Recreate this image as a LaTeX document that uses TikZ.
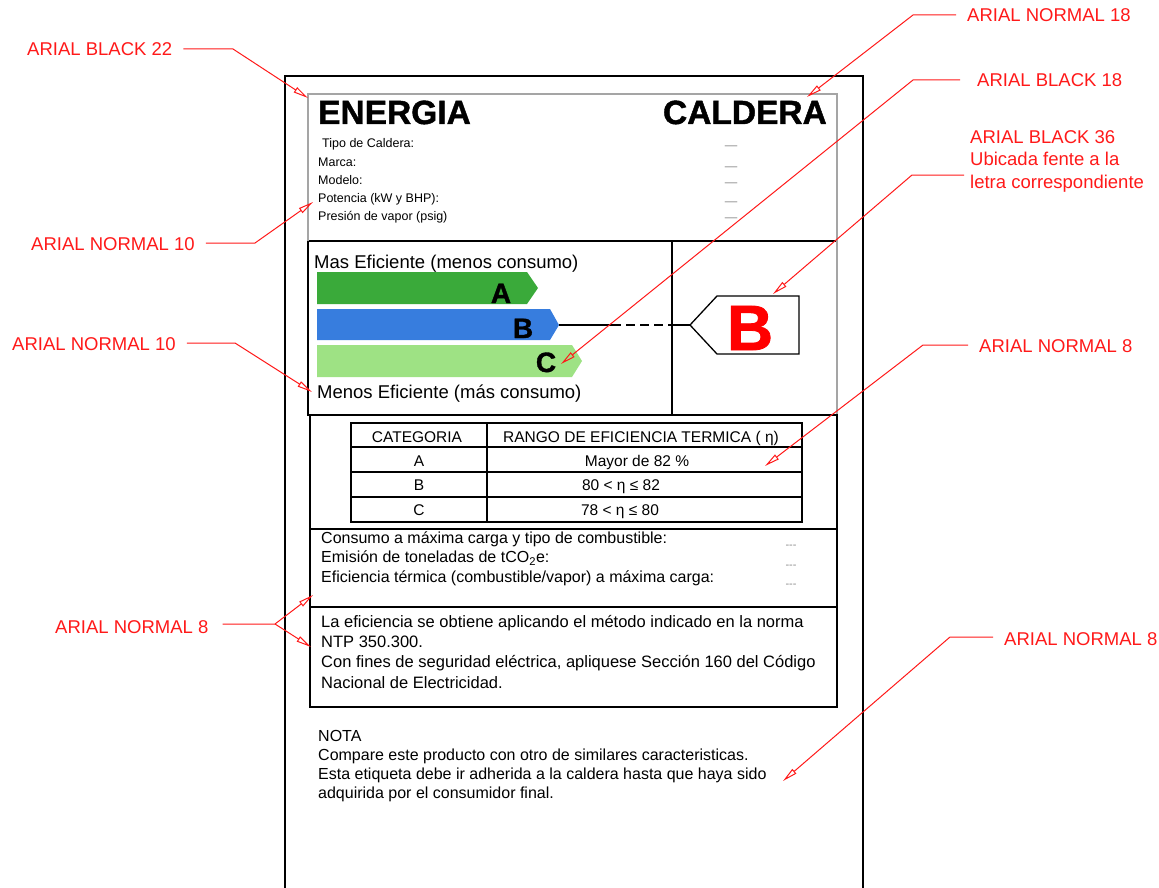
\documentclass[tikz,border=0pt]{standalone}
\usepackage{fontspec}
\setmainfont{Liberation Sans}
\newfontfamily\heavyfont{Liberation Sans}[BoldFeatures={FakeBold=1.3}]
\usetikzlibrary{arrows.meta}
\definecolor{annot}{RGB}{255,25,25}
\definecolor{barAcol}{RGB}{58,170,58}
\definecolor{barBcol}{RGB}{55,125,222}
\definecolor{barCcol}{RGB}{158,226,132}
\definecolor{hdrgray}{RGB}{165,165,165}

\begin{document}
\begin{tikzpicture}[x=1pt,y=-1pt]
	\tikzset{rule/.style={line width=1.3pt,black}}
	\tikzset{hdr/.style={line width=2.6pt,hdrgray}}
	\tikzset{lbl/.style={inner sep=0pt,text=annot,align=left,font=\fontsize{18.5}{22.5}\selectfont}}
	\tikzset{lead/.style={annot,line width=1pt,shorten <=11pt,-{Triangle[open,length=15pt,width=6pt]}}}
	\tikzset{title/.style={inner sep=0pt,font=\fontsize{33.5}{36}\heavyfont\bfseries}}
	\tikzset{info/.style={inner sep=0pt,font=\fontsize{12.5}{15}\selectfont}}
	\tikzset{fillin/.style={inner sep=0pt,text=black!45,font=\fontsize{12.5}{15}\selectfont}}
	\tikzset{smallfill/.style={inner sep=0pt,text=black!45,font=\fontsize{11}{13}\selectfont}}
	\tikzset{effi/.style={inner sep=0pt,font=\fontsize{18.5}{22}\selectfont}}
	\tikzset{letter/.style={inner sep=0pt,font=\fontsize{28}{30}\heavyfont\bfseries}}
	\tikzset{cell/.style={inner sep=0pt,font=\fontsize{15.5}{18}\selectfont}}
	\tikzset{body/.style={inner sep=0pt,align=left,font=\fontsize{16}{19.5}\selectfont}}
	\useasboundingbox (0,0) rectangle (1159,888);

	\draw[rule] (285,892) -- (285,76) -- (863,76) -- (863,892);
	\draw[rule] (308,241) -- (837,241);
	\draw[rule] (308,241) -- (308,415) -- (837,415);
	\draw[rule] (672,241) -- (672,415);
	\draw[hdr] (308,241) -- (308,94) -- (837,94) -- (837,415);
	\draw[rule] (310,415) rectangle (837,707);
	\draw[rule] (310,529) -- (837,529);
	\draw[rule] (310,607) -- (837,607);

	\node[title,anchor=base west] (energia) at (318,124) {ENERGIA};
	\node[title,anchor=base east] (caldera) at (827,124) {CALDERA};
	\node[info,anchor=base west] (tipo) at (322,147) {Tipo de Caldera:};
	\node[info,anchor=base west] (marca) at (318,166) {Marca:};
	\node[info,anchor=base west] (modelo) at (318,184) {Modelo:};
	\node[info,anchor=base west] (potencia) at (318,202) {Potencia (kW y BHP):};
	\node[info,anchor=base west] (presion) at (318,220) {Presión de vapor (psig)};
	\node[fillin,anchor=base] (ftipo) at (731,149.5) {—};
	\node[fillin,anchor=base] (fmarca) at (731,170) {—};
	\node[fillin,anchor=base] (fmodelo) at (731,186.5) {—};
	\node[fillin,anchor=base] (fpotencia) at (731,205) {—};
	\node[fillin,anchor=base] (fpresion) at (731,221) {—};

	\node[effi,anchor=base west] (masef) at (314,268) {Mas Eficiente (menos consumo)};
	\node[effi,anchor=base west] (menosef) at (317,398) {Menos Eficiente (más consumo)};
	\fill[barAcol] (317,272) -- (527,272) -- (538,288) -- (527,304) -- (317,304) -- cycle;
	\fill[barBcol] (317,309) -- (550,309) -- (559,325) -- (550,340) -- (317,340) -- cycle;
	\fill[barCcol] (317,345) -- (572,345) -- (582,361) -- (572,377) -- (317,377) -- cycle;
	\node[letter,anchor=base] (letA) at (501,303) {A};
	\node[letter,anchor=base] (letB) at (523,338) {B};
	\node[letter,anchor=base] (letC) at (546,372) {C};

	\coordinate (tipB) at (559,325);
	\coordinate (dashstart) at (612,325);
	\coordinate (dashend) at (672,325);
	\coordinate (boxtip) at (690,325);
	\draw[line width=1.3pt] (tipB) -- (dashstart);
	\draw[line width=1.3pt,dash pattern=on 9pt off 5pt] (dashstart) -- (dashend);
	\draw[line width=1.3pt] (dashend) -- (boxtip);
	\draw[rule] (boxtip) -- (717,296) -- (799,296) -- (799,354) -- (717,354) -- cycle;
	\node[inner sep=0pt,text=red,font=\fontsize{64}{66}\heavyfont\bfseries,anchor=base] (bigB) at (750,350) {B};

	\draw[rule] (351,423) rectangle (802,522);
	\draw[rule] (487,423) -- (487,522);
	\draw[rule] (351,447) -- (802,447);
	\draw[rule] (351,472) -- (802,472);
	\draw[rule] (351,497) -- (802,497);
	\node[cell,anchor=base] (hcat) at (417,442) {CATEGORIA};
	\node[cell,anchor=base] (hrango) at (641,442) {RANGO DE EFICIENCIA TERMICA ( η)};
	\node[cell,anchor=base] (catA) at (419,466) {A};
	\node[cell,anchor=base] (catB) at (419,490) {B};
	\node[cell,anchor=base] (catC) at (419,515) {C};
	\node[cell,anchor=base] (rangoA) at (637,466) {Mayor de 82 \%};
	\node[cell,anchor=base] (rangoB) at (621,490) {80 < η ≤ 82};
	\node[cell,anchor=base] (rangoC) at (620,515) {78 < η ≤ 80};

	\node[body,anchor=base west] (consumo) at (321,582) {Consumo a máxima carga y tipo de combustible:\\Emisión de toneladas de tCO\textsubscript{2}e:\\Eficiencia térmica (combustible/vapor) a máxima carga:};
	\node[smallfill,anchor=base] (fconsumo) at (791,548) {-{}-{}-};
	\node[smallfill,anchor=base] (femision) at (791,568) {-{}-{}-};
	\node[smallfill,anchor=base] (fefic) at (791,587) {-{}-{}-};
	\node[body,anchor=base west,font=\fontsize{16.5}{20.3}\selectfont] (norma) at (321,688) {La eficiencia se obtiene aplicando el método indicado en la norma\\NTP 350.300.\\Con fines de seguridad eléctrica, apliquese Sección 160 del Código\\Nacional de Electricidad.};
	\node[body,anchor=base west,font=\fontsize{16}{19}\selectfont] (nota) at (318,798) {NOTA\\Compare este producto con otro de similares caracteristicas.\\Esta etiqueta debe ir adherida a la caldera hasta que haya sido\\adquirida por el consumidor final.};

	\node[lbl,anchor=base west] (lblack22) at (27,56) {ARIAL BLACK 22};
	\node[lbl,anchor=base west] (lnormal10a) at (31,250) {ARIAL NORMAL 10};
	\node[lbl,anchor=base west] (lnormal10b) at (12,350) {ARIAL NORMAL 10};
	\node[lbl,anchor=base west] (lnormal8a) at (55,633) {ARIAL NORMAL 8};
	\node[lbl,anchor=base west] (lnormal18) at (967,22) {ARIAL NORMAL 18};
	\node[lbl,anchor=base west] (lblack18) at (977,87) {ARIAL BLACK 18};
	\node[lbl,anchor=base west] (lblack36) at (970,188) {ARIAL BLACK 36\\Ubicada fente a la\\letra correspondiente};
	\node[lbl,anchor=base west] (lnormal8b) at (979,352) {ARIAL NORMAL 8};
	\node[lbl,anchor=base west] (lnormal8c) at (1004,645) {ARIAL NORMAL 8};

	\coordinate (kblack22) at (233,49);
	\coordinate (knormal10a) at (255,243);
	\coordinate (knormal10b) at (235,343);
	\coordinate (knormal8a) at (275,624);
	\coordinate (knormal18) at (913,15);
	\coordinate (kblack18) at (913,80);
	\coordinate (kblack36) at (912,175);
	\coordinate (knormal8b) at (923,345);
	\coordinate (knormal8c) at (950,637);
	\coordinate (tblack22) at (308,98);
	\coordinate (tnormal10a) at (313,202);
	\coordinate (tnormal10b) at (312,392);
	\coordinate (tnormal8up) at (313,595);
	\coordinate (tnormal8down) at (311,647);
	\coordinate (tnormal18) at (807,97);
	\coordinate (tblack18) at (561,364);
	\coordinate (tblack36) at (773,294);
	\coordinate (tnormal8b) at (765,466);
	\coordinate (tnormal8c) at (783,781);

	\draw[lead] (kblack22 -| lblack22.east) -- (kblack22) -- (tblack22);
	\draw[lead] (knormal10a -| lnormal10a.east) -- (knormal10a) -- (tnormal10a);
	\draw[lead] (knormal10b -| lnormal10b.east) -- (knormal10b) -- (tnormal10b);
	\draw[lead,shorten <=14pt] (knormal8a -| lnormal8a.east) -- (knormal8a) -- (tnormal8up);
	\draw[lead,shorten <=0pt] (knormal8a) -- (tnormal8down);
	\draw[lead] (knormal18 -| lnormal18.west) -- (knormal18) -- (tnormal18);
	\draw[lead,shorten <=17pt] (kblack18 -| lblack18.west) -- (kblack18) -- (tblack18);
	\draw[lead,shorten <=6pt] (kblack36 -| lblack36.west) -- (kblack36) -- (tblack36);
	\draw[lead] (knormal8b -| lnormal8b.west) -- (knormal8b) -- (tnormal8b);
	\draw[lead] (knormal8c -| lnormal8c.west) -- (knormal8c) -- (tnormal8c);
\end{tikzpicture}
\end{document}
